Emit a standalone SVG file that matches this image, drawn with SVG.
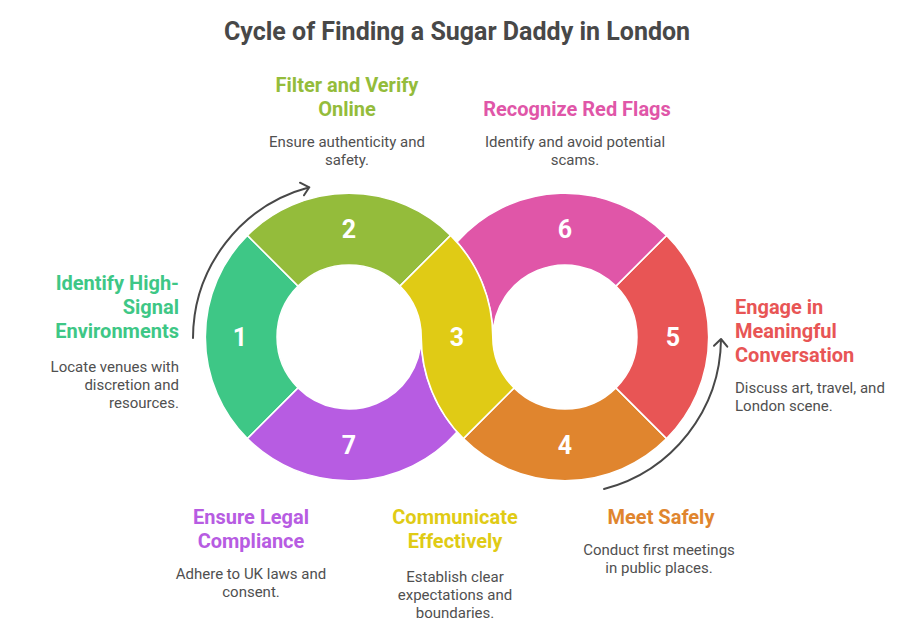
<svg xmlns="http://www.w3.org/2000/svg" width="915" height="638" viewBox="0 0 915 638">
<style>
text{font-family:Roboto,"Liberation Sans",sans-serif}
.t{font-size:20px;font-weight:700}
.d{font-size:15px;fill:#505050}
.n{font-size:25px;font-weight:700;fill:#fff;text-anchor:middle}
.m{text-anchor:middle}.e{text-anchor:end}
.s{stroke:#fff;stroke-width:1.500}
.a{fill:none;stroke:#484848;stroke-width:2;stroke-linecap:round;stroke-linejoin:round}
</style>
<rect width="915" height="638" fill="#fff"/>
<text x="457" y="40" class="m" style="font-size:25px;font-weight:700;fill:#484848">Cycle of Finding a Sugar Daddy in London</text>
<g id="node1"><path class="s" d="M247.400 235.400A143.750 143.750 0 0 0 247.400 438.600L298.100 387.900A72 72 0 0 1 298.100 286.100Z" fill="#3EC786"/><text x="240" y="346" class="n">1</text>
<text x="179" y="290" class="t e" fill="#3EC786">Identify High-</text><text x="179" y="314" class="t e" fill="#3EC786">Signal</text><text x="179" y="338" class="t e" fill="#3EC786">Environments</text>
<text x="179" y="372" class="d e">Locate venues with</text><text x="179" y="390" class="d e">discretion and</text><text x="179" y="408" class="d e">resources.</text></g>
<g id="node2"><path class="s" d="M247.400 235.400A143.750 143.750 0 0 1 450.600 235.400L399.900 286.100A72 72 0 0 0 298.100 286.100Z" fill="#94BC3B"/><text x="349" y="238" class="n">2</text>
<text x="347" y="92" class="t m" fill="#94BC3B">Filter and Verify</text><text x="347" y="116" class="t m" fill="#94BC3B">Online</text>
<text x="347" y="147" class="d m">Ensure authenticity and</text><text x="347" y="165" class="d m">safety.</text></g>
<g id="node4"><path class="s" d="M463.400 438.600L514.100 387.900A72 72 0 0 0 615.900 387.900L666.600 438.600A143.750 143.750 0 0 1 463.400 438.600Z" fill="#E0852E"/><text x="565" y="454" class="n">4</text>
<text x="661" y="524" class="t m" fill="#E0852E">Meet Safely</text>
<text x="659" y="555" class="d m">Conduct first meetings</text><text x="659" y="573" class="d m">in public places.</text></g>
<g id="node5"><path class="s" d="M666.600 235.400A143.750 143.750 0 0 1 666.600 438.600L615.900 387.900A72 72 0 0 0 615.900 286.100Z" fill="#E85555"/><text x="673" y="346" class="n">5</text>
<text x="735" y="314" class="t" fill="#E85555">Engage in</text><text x="735" y="338" class="t" fill="#E85555">Meaningful</text><text x="735" y="362" class="t" fill="#E85555">Conversation</text>
<text x="735" y="393" class="d">Discuss art, travel, and</text><text x="735" y="411" class="d">London scene.</text></g>
<g id="node6"><path class="s" d="M457 242.100A143.750 143.750 0 0 1 666.600 235.400L615.900 286.100A72 72 0 0 0 493 337A143.750 143.750 0 0 0 457 242.100Z" fill="#E056A8"/><text x="565" y="238" class="n">6</text>
<text x="577" y="116" class="t m" fill="#E056A8">Recognize Red Flags</text>
<text x="575" y="147" class="d m">Identify and avoid potential</text><text x="575" y="165" class="d m">scams.</text></g>
<g id="node7"><path class="s" d="M247.400 438.600L298.100 387.900A72 72 0 0 0 421 337A143.750 143.750 0 0 0 457 431.900A143.750 143.750 0 0 1 247.400 438.600Z" fill="#B75CE2"/><text x="349" y="454" class="n">7</text>
<text x="251" y="524" class="t m" fill="#B75CE2">Ensure Legal</text><text x="251" y="548" class="t m" fill="#B75CE2">Compliance</text>
<text x="251" y="579" class="d m">Adhere to UK laws and</text><text x="251" y="597" class="d m">consent.</text></g>
<g id="node3"><path class="s" d="M450.600 235.400A143.750 143.750 0 0 1 492.750 337A72 72 0 0 0 514.100 387.900L463.400 438.600A143.750 143.750 0 0 1 421.250 337A72 72 0 0 0 399.900 286.100Z" fill="#E0CB15"/><text x="457" y="346" class="n">3</text>
<text x="455" y="524" class="t m" fill="#E0CB15">Communicate</text><text x="455" y="548" class="t m" fill="#E0CB15">Effectively</text>
<text x="455" y="582" class="d m">Establish clear</text><text x="455" y="600" class="d m">expectations and</text><text x="455" y="618" class="d m">boundaries.</text></g>
<g id="connectors"><path class="a" d="M193 338A156.500 156.500 0 0 1 309.300 187.300M300 182.700L309.300 187.300L304 195.300"/><path class="a" d="M604 489A156.500 156.500 0 0 0 721 339M714 345.700L721 339L727.300 346.700"/></g>
</svg>
